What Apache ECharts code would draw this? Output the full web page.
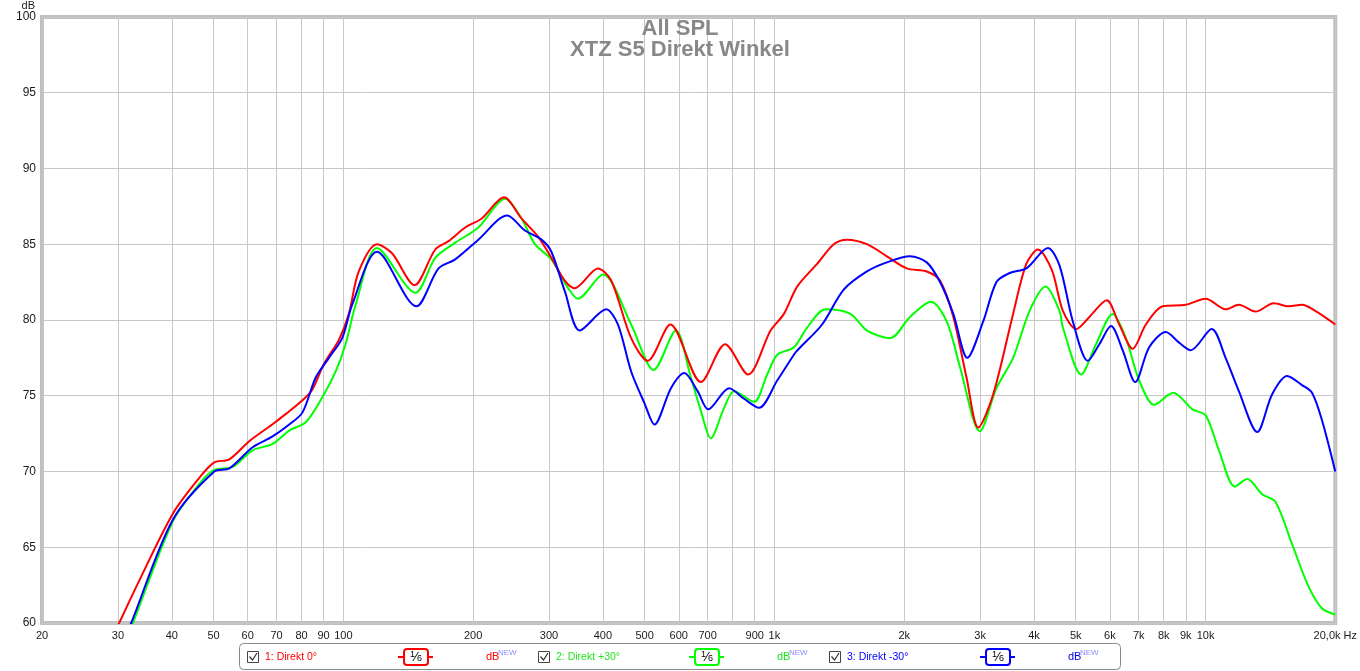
<!DOCTYPE html>
<html>
<head>
<meta charset="utf-8">
<script src="https://cdn.jsdelivr.net/npm/echarts@6/dist/echarts.min.js"></script>
<style>
html,body{margin:0;padding:0;background:#fff;}
#chart{width:1360px;height:671px;}
</style>
</head>
<body>
<div id="chart"></div>
<script>
// ---- data (frequency Hz, SPL dB) ----
const seriesNames = ['1: Direkt 0°', '2: Direkt +30°', '3: Direkt -30°'];
const seriesColors = ['#ff0000', '#00ff00', '#0000ff'];

const direkt0 = [
  [28.5, 58.6], [30.2, 60.0], [33.1, 62.4], [40.2, 67.2], [46.4, 69.6], [50.2, 70.6], [54.4, 70.8],
  [60.5, 72.0], [68.4, 73.1], [73.6, 73.8], [80.4, 74.7], [84.7, 75.4], [90.2, 77.1], [97.7, 78.7],
  [103, 80.4], [108.6, 83.2], [119.7, 85.0], [129.7, 84.4], [146.3, 82.3], [163.4, 84.65],
  [175.4, 85.2], [191.7, 86.1], [209.4, 86.7], [235.8, 88.1], [259, 86.7], [283, 85.5],
  [303.8, 84.1], [326.4, 82.6], [344.2, 82.1], [389.6, 83.4], [418.2, 82.6], [465.2, 78.8],
  [508.4, 77.3], [573.8, 79.7], [675.2, 75.9], [768.4, 78.4], [868.6, 76.4], [979.6, 79.3],
  [1052, 80.4], [1129, 82.2], [1256, 83.7], [1373, 85.0], [1474, 85.3], [1639, 85.0],
  [1823, 84.2], [2028, 83.4], [2256, 83.2], [2422, 82.6], [2600, 80.2], [2790, 76.2],
  [2970, 72.9], [3218, 75.1], [3578, 80.4], [3840, 83.7], [4086, 84.65], [4400, 83.3],
  [4668, 80.6], [5012, 79.4], [5378, 80.2], [5898, 81.3], [6308, 79.7], [6776, 78.1],
  [7272, 79.7], [7950, 80.9], [9000, 81.0], [10010, 81.4], [11132, 80.7], [11948, 81.0],
  [13060, 80.55], [14398, 81.1], [15592, 80.9], [16746, 81.0], [17972, 80.6], [20000, 79.7]
];

const direktPlus30 = [
  [31.0, 58.7], [32.5, 60.0], [40.2, 66.7], [46.4, 69.2], [50.2, 70.1], [55.4, 70.3], [61.6, 71.4],
  [68.4, 71.8], [74.9, 72.7], [81.8, 73.25], [89.4, 74.9], [96.0, 76.6], [101.2, 78.4],
  [106.8, 81.0], [119.7, 84.75], [147, 81.8], [163.4, 84.1], [181.8, 85.1], [205.7, 86.1],
  [237.2, 88.0], [259, 86.7], [278.2, 85.0], [303.8, 84.0], [332.2, 82.1], [350, 81.4],
  [400, 83.0], [465.2, 79.7], [524.8, 76.7], [590.8, 79.3], [640.2, 76.2], [675.2, 74.0],
  [712, 72.2], [764.4, 74.2], [806.2, 75.3], [896.8, 74.6], [962, 76.4], [1015, 77.7],
  [1110, 78.2], [1191, 79.5], [1313, 80.7], [1500, 80.4], [1639, 79.3], [1855, 78.8],
  [2064, 80.2], [2308, 81.2], [2510, 79.9], [2694, 76.9], [2996, 72.65], [3274, 75.5],
  [3578, 77.5], [3908, 80.6], [4256, 82.2], [4584, 80.6], [4668, 79.5], [5146, 76.4],
  [5572, 78.4], [6090, 80.4], [6536, 78.8], [7018, 76.0], [7602, 74.4], [8410, 75.2],
  [9326, 74.1], [10010, 73.7], [10744, 71.4], [11696, 69.0], [12494, 69.5], [13536, 68.5],
  [14528, 68.0], [15878, 65.2], [17340, 62.4], [18620, 60.97], [20000, 60.55]
];

const direktMinus30 = [
  [30.7, 58.7], [32.2, 60.0], [40.2, 66.8], [50.2, 70.0], [54.4, 70.2], [61.6, 71.6], [68.4, 72.3],
  [74.9, 73.1], [80.4, 73.9], [86.3, 76.2], [92.6, 77.5], [99.4, 78.8], [104.8, 81.0],
  [119.7, 84.5], [147.7, 80.9], [166.3, 83.4], [181.8, 84.0], [205.7, 85.3], [240, 86.9],
  [263.8, 85.9], [288.2, 85.3], [303.8, 84.5], [326.4, 81.9], [353.6, 79.3], [407.2, 80.7],
  [433.4, 79.7], [465.2, 76.6], [499.6, 74.5], [526.8, 73.1], [575.4, 75.5], [618, 76.5],
  [663.4, 75.3], [702.2, 74.1], [785.2, 75.5], [850.2, 74.8], [920.8, 74.2], [1015, 76.0],
  [1119, 77.85], [1149, 78.2], [1290, 79.7], [1448, 82.0], [1639, 83.2], [1823, 83.8],
  [2064, 84.2], [2256, 83.8], [2422, 82.5], [2600, 80.4], [2802, 77.5], [3050, 79.9],
  [3274, 82.5], [3514, 83.1], [3840, 83.4], [4310, 84.75], [4584, 83.6], [4924, 79.9],
  [5334, 77.3], [5672, 78.4], [6036, 79.6], [6424, 78.0], [6870, 75.9], [7402, 78.2],
  [8090, 79.2], [8684, 78.5], [9242, 78.0], [10336, 79.4], [11132, 77.5], [11948, 75.3],
  [13180, 72.6], [14276, 75.1], [15460, 76.3], [16746, 75.7], [17660, 75.2], [18620, 73.4],
  [20000, 70.0]
];

// ---- axis ticks ----
const gridFreqs = [20, 30, 40, 50, 60, 70, 80, 90, 100, 200, 300, 400, 500, 600, 700, 800, 900,
  1000, 2000, 3000, 4000, 5000, 6000, 7000, 8000, 9000, 10000, 20000];
const freqLabels = ['20', '30', '40', '50', '60', '70', '80', '90', '100', '200', '300', '400', '500',
  '600', '700', '', '900', '1k', '2k', '3k', '4k', '5k', '6k', '7k', '8k', '9k', '10k', '20,0k Hz'];
const dbMin = 60, dbMax = 100, dbStep = 5;
const titleLines = ['All SPL', 'XTZ S5 Direkt Winkel'];

// ---- build ----
const FONT = '"Liberation Sans", Arial, sans-serif';
const gridLogs = gridFreqs.map(f => Math.log10(f));
const labelLogs = gridFreqs.filter((f, i) => freqLabels[i] !== '').map(f => Math.log10(f));
function labelFor(v) {
  const i = gridLogs.findIndex(g => Math.abs(g - v) < 1e-6);
  return i >= 0 ? freqLabels[i] : '';
}

const chart = echarts.init(document.getElementById('chart'), null, {renderer: 'canvas'});

const legendEls = [];
legendEls.push({
  type: 'rect', shape: {x: 239.5, y: 643.5, width: 881, height: 26, r: 4},
  style: {fill: '#fff', stroke: '#8a8a8a', lineWidth: 1}, z: 10
});
seriesNames.forEach((name, i) => {
  const off = 291 * i;
  const col = seriesColors[i];
  const txtCol = i === 1 ? '#1ee61e' : col;
  legendEls.push({type: 'rect', shape: {x: 247.5 + off, y: 651.5, width: 11, height: 11},
    style: {fill: '#fff', stroke: '#444', lineWidth: 1}, z: 11});
  legendEls.push({type: 'polyline', shape: {points: [[249.5 + off, 656.5], [252.5 + off, 660], [257 + off, 653]]},
    style: {fill: null, stroke: '#333', lineWidth: 1.2}, z: 12});
  legendEls.push({type: 'text', x: 265 + off, y: 657,
    style: {text: name, fill: txtCol, font: '10.5px ' + FONT, verticalAlign: 'middle', align: 'left'}, z: 11});
  legendEls.push({type: 'line', shape: {x1: 398 + off, y1: 657, x2: 433 + off, y2: 657},
    style: {stroke: col, lineWidth: 2}, z: 11});
  legendEls.push({type: 'rect', shape: {x: 404 + off, y: 649, width: 24, height: 16, r: 3},
    style: {fill: '#fff', stroke: col, lineWidth: 2}, z: 12});
  legendEls.push({type: 'text', x: 416 + off, y: 657,
    style: {text: '{a|1}{b|⁄}{c|6}', align: 'center', verticalAlign: 'middle',
      rich: {
        a: {fontSize: 9, fill: '#000', fontFamily: FONT, verticalAlign: 'top', padding: [0, 0, 4, 0]},
        b: {fontSize: 13, fill: '#000', fontFamily: FONT},
        c: {fontSize: 9, fill: '#000', fontFamily: FONT, padding: [4, 0, 0, 0]}
      }}, z: 13});
  legendEls.push({type: 'text', x: 486 + off, y: 657,
    style: {text: 'dB', fill: txtCol, font: '11px ' + FONT, verticalAlign: 'middle', align: 'left'}, z: 11});
  legendEls.push({type: 'text', x: 498 + off, y: 653,
    style: {text: 'NEW', fill: '#8c8cff', font: '8px ' + FONT, verticalAlign: 'middle', align: 'left'}, z: 11});
});

const option = {
  animation: false,
  backgroundColor: '#fff',
  title: {
    text: titleLines.join('\n'),
    left: 'center', top: 13,
    textStyle: {fontFamily: FONT, fontWeight: 'bold', fontSize: 22, color: '#888888', lineHeight: 21}
  },
  grid: {left: 42, right: 20, top: 15, bottom: 48, show: true, borderColor: '#c0c0c0', borderWidth: 4,
    backgroundColor: 'transparent'},
  xAxis: [
    {type: 'log', logBase: 10, min: 20, max: 20000, show: false},
    {type: 'value', position: 'bottom', min: Math.log10(20), max: Math.log10(20000),
      axisLine: {show: false},
      axisTick: {show: false, customValues: gridLogs},
      axisLabel: {customValues: labelLogs, formatter: labelFor, margin: 7,
        fontFamily: FONT, fontSize: 11, color: '#1a1a1a'},
      splitLine: {show: true, lineStyle: {color: '#c8c8c8', width: 1}}
    }
  ],
  yAxis: {
    type: 'value', min: dbMin, max: dbMax, interval: dbStep,
    name: 'dB', nameLocation: 'end', nameGap: 4,
    nameTextStyle: {align: 'right', verticalAlign: 'bottom', padding: [0, 7, 0, 0], fontFamily: FONT, fontSize: 11, color: '#1a1a1a'},
    axisLine: {show: false}, axisTick: {show: false},
    axisLabel: {margin: 6, fontFamily: FONT, fontSize: 12, color: '#1a1a1a'},
    splitLine: {show: true, lineStyle: {color: '#c8c8c8', width: 1}}
  },
  series: [
    {name: seriesNames[1], type: 'line', data: direktPlus30, xAxisIndex: 0, showSymbol: false, symbol: 'none',
      smooth: 0.3, lineStyle: {color: seriesColors[1], width: 2}, itemStyle: {color: seriesColors[1]}, z: 2},
    {name: seriesNames[0], type: 'line', data: direkt0, xAxisIndex: 0, showSymbol: false, symbol: 'none',
      smooth: 0.3, lineStyle: {color: seriesColors[0], width: 2}, itemStyle: {color: seriesColors[0]}, z: 3},
    {name: seriesNames[2], type: 'line', data: direktMinus30, xAxisIndex: 0, showSymbol: false, symbol: 'none',
      smooth: 0.3, lineStyle: {color: seriesColors[2], width: 2}, itemStyle: {color: seriesColors[2]}, z: 4}
  ],
  graphic: legendEls
};
chart.setOption(option);
</script>
</body>
</html>
